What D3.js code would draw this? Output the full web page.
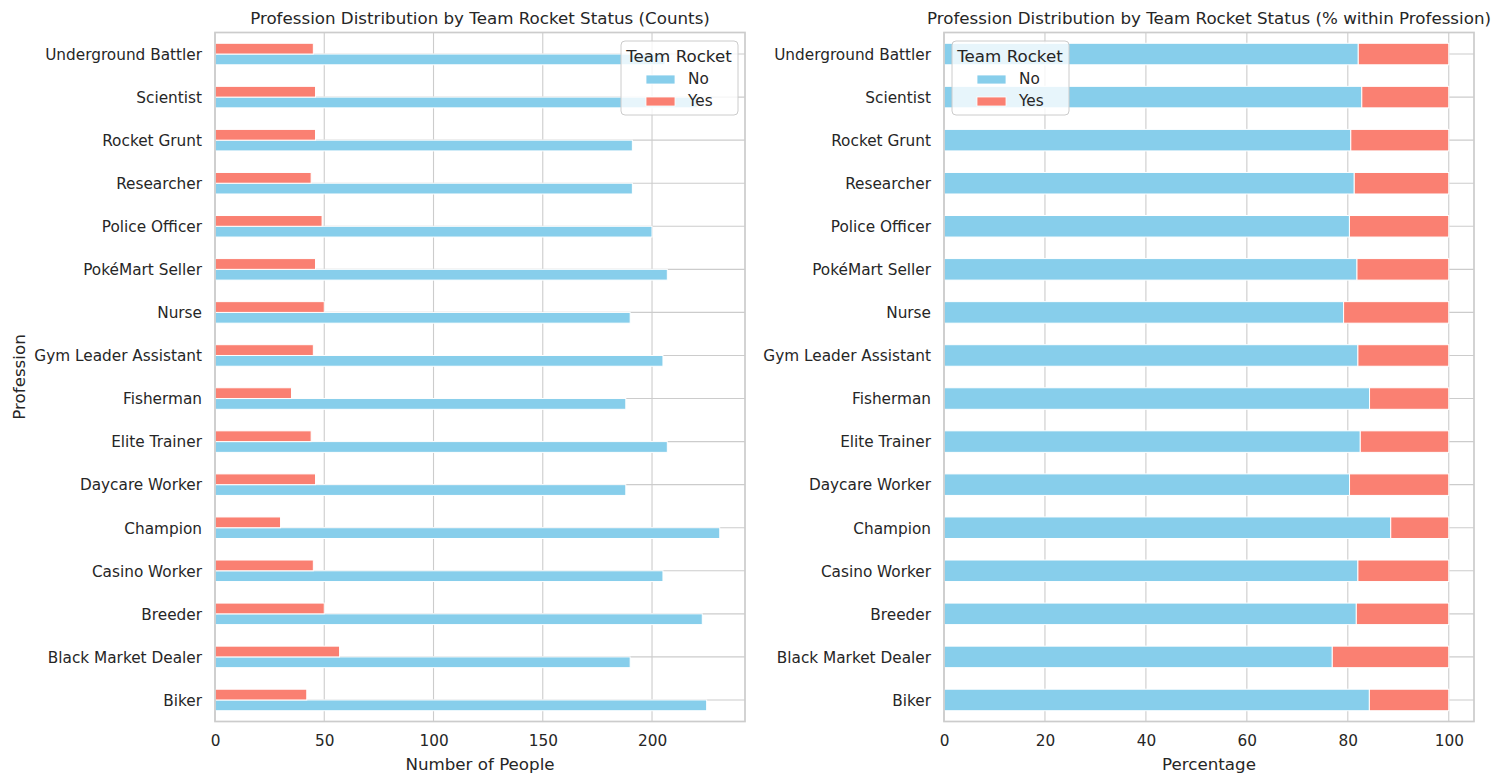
<!DOCTYPE html>
<html>
<head>
<meta charset="utf-8">
<script src="https://cdn.jsdelivr.net/npm/d3@7"></script>
<style>
  body { margin: 0; background: #fff; }
  text { font-family: "DejaVu Sans", sans-serif; fill: #262626; }
</style>
</head>
<body>
<svg id="chart" width="1499" height="784"></svg>
<script>
// categories bottom to top, as in the original
const professions = [
    "Biker", "Black Market Dealer", "Breeder", "Casino Worker", "Champion",
    "Daycare Worker", "Elite Trainer", "Fisherman", "Gym Leader Assistant", "Nurse",
    "PokéMart Seller", "Police Officer", "Researcher", "Rocket Grunt", "Scientist",
    "Underground Battler"
];
const noCounts  = [225, 190, 223, 205, 231, 188, 207, 188, 205, 190, 207, 200, 191, 191, 221, 206];
const yesCounts = [42, 57, 50, 45, 30, 46, 44, 35, 45, 50, 46, 49, 44, 46, 46, 45];
const statuses = ["No", "Yes"];
const countTicks = [0, 50, 100, 150, 200];
const pctTicks = [0, 20, 40, 60, 80, 100];

const colors = { No: "#87CEEB", Yes: "#FA8072" };
const gridColor = "#cccccc";

const svg = d3.select("#chart");

const plotTop = 32.5, plotBottom = 721.5;
const leftBox = { x0: 215, x1: 745 };
const rightBox = { x0: 944, x1: 1474 };

const rows = professions.map((p, i) => {
    const tot = noCounts[i] + yesCounts[i];
    return { name: p, No: noCounts[i], Yes: yesCounts[i],
             pNo: noCounts[i] / tot * 100, pYes: yesCounts[i] / tot * 100 };
});

function panel(box, xMax, ticks, title, xlabel, ylabel) {
    const g = svg.append("g");
    const x = d3.scaleLinear().domain([0, xMax]).range([box.x0, box.x1]);
    const y = d3.scaleBand().domain(professions.slice().reverse()).range([plotTop, plotBottom]).padding(0);

    // grid
    g.append("g").selectAll("line").data(ticks).join("line")
        .attr("x1", d => x(d)).attr("x2", d => x(d))
        .attr("y1", plotTop).attr("y2", plotBottom)
        .attr("stroke", gridColor).attr("stroke-width", 1.1);
    g.append("g").selectAll("line").data(professions).join("line")
        .attr("x1", box.x0).attr("x2", box.x1)
        .attr("y1", d => y(d) + y.bandwidth() / 2).attr("y2", d => y(d) + y.bandwidth() / 2)
        .attr("stroke", gridColor).attr("stroke-width", 1.1);

    const xAxis = g.append("g")
        .attr("transform", `translate(0,${plotBottom})`)
        .call(d3.axisBottom(x).tickValues(ticks).tickSize(0).tickPadding(14));
    xAxis.select(".domain").remove();
    xAxis.selectAll("text").attr("font-size", "15.3px").attr("fill", "#262626")
        .attr("font-family", "DejaVu Sans");

    const yAxis = g.append("g")
        .attr("transform", `translate(${box.x0},0)`)
        .call(d3.axisLeft(y).tickSize(0).tickPadding(13));
    yAxis.select(".domain").remove();
    yAxis.selectAll("text").attr("font-size", "15.3px").attr("fill", "#262626")
        .attr("font-family", "DejaVu Sans").attr("dy", "0.38em");

    g.append("text")
        .attr("x", (box.x0 + box.x1) / 2).attr("y", 24)
        .attr("text-anchor", "middle").attr("font-size", "16.7px")
        .text(title);

    g.append("text")
        .attr("x", (box.x0 + box.x1) / 2).attr("y", 770)
        .attr("text-anchor", "middle").attr("font-size", "16.7px")
        .text(xlabel);

    if (ylabel) {
        g.append("text")
            .attr("transform", `translate(25,${(plotTop + plotBottom) / 2}) rotate(-90)`)
            .attr("text-anchor", "middle").attr("font-size", "16.7px")
            .text(ylabel);
    }

    return { g, x, y };
}

function spines(box) {
    svg.append("rect")
        .attr("x", box.x0).attr("y", plotTop)
        .attr("width", box.x1 - box.x0).attr("height", plotBottom - plotTop)
        .attr("fill", "none").attr("stroke", gridColor).attr("stroke-width", 1.7);
}

function legend(lx) {
    const lg = svg.append("g").attr("transform", `translate(${lx},41)`);
    lg.append("rect")
        .attr("width", 117).attr("height", 74).attr("rx", 4)
        .attr("fill", "white").attr("fill-opacity", 0.8)
        .attr("stroke", gridColor).attr("stroke-width", 1);
    lg.append("text").attr("x", 58).attr("y", 21)
        .attr("text-anchor", "middle").attr("font-size", "16.7px").text("Team Rocket");
    statuses.forEach((s, i) => {
        lg.append("rect")
            .attr("x", 25).attr("y", 34 + i * 22)
            .attr("width", 29).attr("height", 9)
            .attr("fill", colors[s]).attr("stroke", "white").attr("stroke-width", 0.8);
        lg.append("text").attr("x", 67).attr("y", 43 + i * 22)
            .attr("font-size", "15.3px").text(s);
    });
}

// left: grouped counts
const p1 = panel(leftBox, d3.max(noCounts.concat(yesCounts)) * 1.05, countTicks,
    "Profession Distribution by Team Rocket Status (Counts)", "Number of People", "Profession");
const bh = p1.y.bandwidth() * 0.25;
statuses.forEach((s, si) => {
    p1.g.append("g").selectAll("rect").data(rows).join("rect")
        .attr("x", p1.x(0))
        .attr("y", d => p1.y(d.name) + p1.y.bandwidth() / 2 + (si === 0 ? 0 : -bh))
        .attr("width", d => p1.x(d[s]) - p1.x(0))
        .attr("height", bh)
        .attr("fill", colors[s]).attr("stroke", "white").attr("stroke-width", 1);
});
spines(leftBox);
legend(621);

// right: stacked percentages
const p2 = panel(rightBox, 105, pctTicks,
    "Profession Distribution by Team Rocket Status (% within Profession)", "Percentage", null);
const sh = p2.y.bandwidth() * 0.5;
p2.g.append("g").selectAll("rect").data(rows).join("rect")
    .attr("x", p2.x(0))
    .attr("y", d => p2.y(d.name) + (p2.y.bandwidth() - sh) / 2)
    .attr("width", d => p2.x(d.pNo) - p2.x(0))
    .attr("height", sh)
    .attr("fill", colors.No).attr("stroke", "white").attr("stroke-width", 1);
p2.g.append("g").selectAll("rect").data(rows).join("rect")
    .attr("x", d => p2.x(d.pNo))
    .attr("y", d => p2.y(d.name) + (p2.y.bandwidth() - sh) / 2)
    .attr("width", d => p2.x(d.pNo + d.pYes) - p2.x(d.pNo))
    .attr("height", sh)
    .attr("fill", colors.Yes).attr("stroke", "white").attr("stroke-width", 1);
spines(rightBox);
legend(952);
</script>
</body>
</html>
